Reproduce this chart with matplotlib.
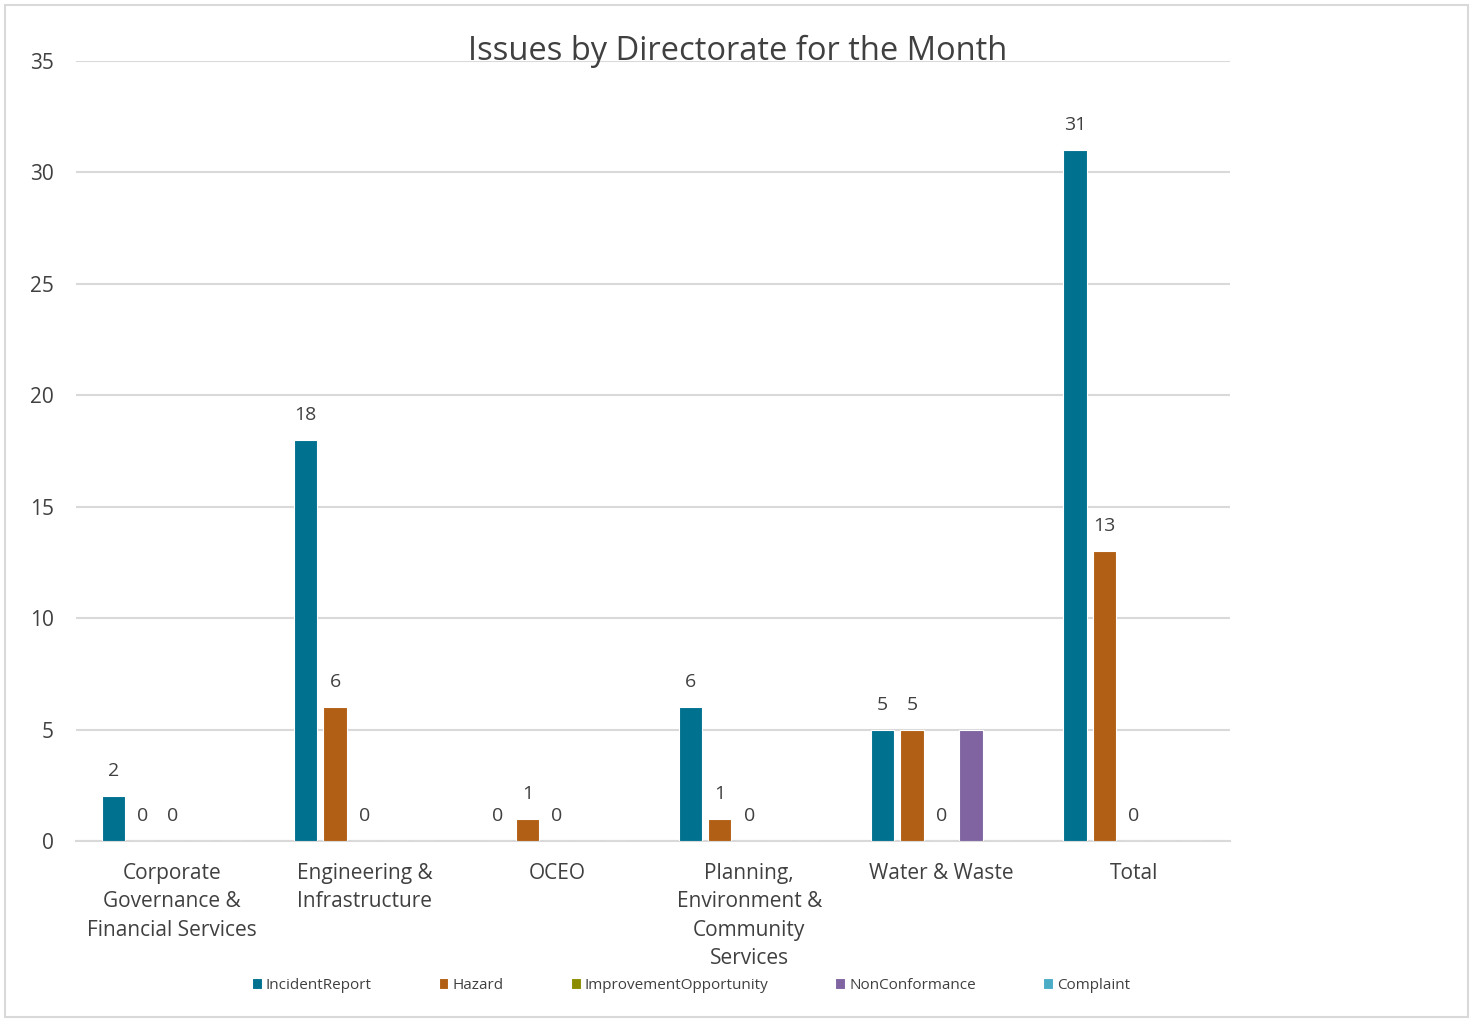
import numpy as np
import matplotlib
matplotlib.use('Agg')
import matplotlib.pyplot as plt
from matplotlib.patches import Rectangle

plt.rcParams['font.family'] = ['Open Sans', 'DejaVu Sans']

categories = ['Corporate\nGovernance &\nFinancial Services', 'Engineering &\nInfrastructure',
              'OCEO', 'Planning,\nEnvironment &\nCommunity\nServices', 'Water & Waste', 'Total']
series = ['IncidentReport', 'Hazard', 'ImprovementOpportunity', 'NonConformance', 'Complaint']
incident = [2, 18, 0, 6, 5, 31]
hazard = [0, 6, 1, 1, 5, 13]
improvement = [0, 0, 0, 0, 0, 0]
nonconf = [None, None, None, None, 5, None]
complaint = [None, None, None, None, None, None]
values = [incident, hazard, improvement, nonconf, complaint]
labelled = [True, True, True, False, False]
colors = ['#00718F', '#B15F14', '#8C8C00', '#8064A2', '#4BACC6']

fig = plt.figure(figsize=(14.76, 10.19), dpi=100)
ax = fig.add_axes([0.0515, 0.1747, 0.7818, 0.7654])

x = np.arange(len(categories))
step = 0.153
width = 0.122
for i, (name, vals) in enumerate(zip(series, values)):
    pos = x + (i - 2) * step
    h = [v if v is not None else 0 for v in vals]
    ax.bar(pos, h, width=width, color=colors[i], edgecolor='white',
           linewidth=0.8, label=name, zorder=3)
    if labelled[i]:
        for p, v in zip(pos, vals):
            if v is None:
                continue
            ax.annotate(str(v), (p, v), xytext=(0, 18), textcoords='offset points',
                        ha='center', va='center', fontsize=14, color='#404040')

ax.set_xlim(-0.5, len(categories) - 0.5)
ax.set_ylim(0, 35)
ax.set_yticks(range(0, 36, 5))
ax.yaxis.grid(True, color='#D9D9D9', linewidth=1.5, zorder=0)
ax.set_axisbelow(True)
for s in ['top', 'right', 'left']:
    ax.spines[s].set_visible(False)
ax.spines['bottom'].set_color('#D9D9D9')
ax.spines['bottom'].set_linewidth(1.5)
ax.tick_params(axis='both', length=0, labelsize=15, colors='#404040')
ax.tick_params(axis='y', pad=16)
ax.tick_params(axis='x', pad=16)
ax.set_xticks(x)
ax.set_xticklabels(categories, linespacing=1.45)

fig.text(0.4995, 0.950, 'Issues by Directorate for the Month', ha='center', va='center',
         fontsize=23.5, color='#404040')

fig.legend(loc='center', bbox_to_anchor=(0.468, 0.033), ncol=5, frameon=False,
           fontsize=11, handlelength=0.65, handleheight=0.65, handletextpad=0.25,
           columnspacing=4.4, labelcolor='#404040')

fig.patches.append(Rectangle((5 / 1476, 2 / 1019), 1463 / 1476, 1012 / 1019,
                             transform=fig.transFigure, fill=False,
                             edgecolor='#D9D9D9', linewidth=1.5))

plt.savefig('out.png', dpi=100)
plt.close()
